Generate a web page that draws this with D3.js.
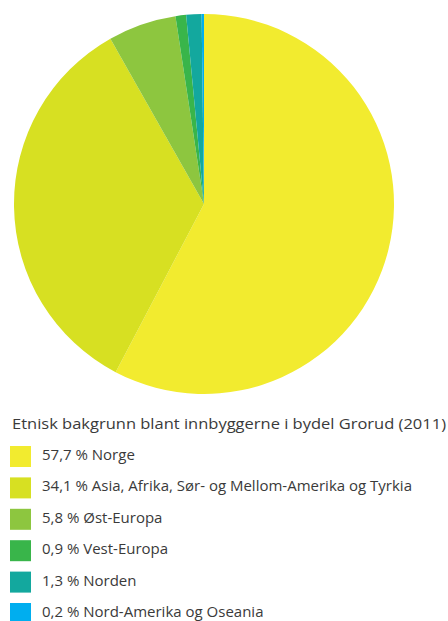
<!DOCTYPE html>
<html>
<head>
<meta charset="utf-8">
<script src="https://cdn.jsdelivr.net/npm/d3@7"></script>
<style>
  body { margin: 0; background: #fff; }
  text { font-family: "Open Sans", sans-serif; fill: #3a3a3a; }
</style>
</head>
<body>
<div id="chart"></div>
<script>
const title = "Etnisk bakgrunn blant innbyggerne i bydel Grorud (2011)";
const categories = ["Norge", "Asia, Afrika, Sør- og Mellom-Amerika og Tyrkia", "Øst-Europa", "Vest-Europa", "Norden", "Nord-Amerika og Oseania"];
const shares = [57.7, 34.1, 5.8, 0.9, 1.3, 0.2];
const colors = ["#f2eb2f", "#d7e022", "#8dc63f", "#39b54a", "#13a89e", "#00aeef"];

const width = 448, height = 621;
const cx = 204, cy = 204, radius = 190;

const svg = d3.select("#chart")
    .append("svg")
    .attr("width", width)
    .attr("height", height);

const data = categories.map(function (c, i) {
    return { name: c, value: shares[i], color: colors[i] };
});

// keep the order as given, start at 12 o'clock, clockwise
const pie = d3.pie()
    .sort(null)
    .value(function (d) { return d.value; });

const arc = d3.arc()
    .innerRadius(0)
    .outerRadius(radius);

svg.append("g")
    .attr("transform", `translate(${cx},${cy})`)
    .selectAll("path")
    .data(pie(data))
    .enter()
    .append("path")
    .attr("d", arc)
    .attr("fill", function (d) { return d.data.color; });

// title
svg.append("text")
    .attr("x", 12)
    .attr("y", 428.5)
    .attr("font-size", 15)
    .attr("textLength", 434)
    .attr("lengthAdjust", "spacingAndGlyphs")
    .text(title);

// legend
const rowY = d3.scaleLinear()
    .domain([0, categories.length - 1])
    .range([446, 603]);

const fmt = d3.format(".1f");

const legend = svg.selectAll(".legend")
    .data(data)
    .enter()
    .append("g")
    .attr("class", "legend")
    .attr("transform", function (d, i) { return `translate(10,${rowY(i)})`; });

legend.append("rect")
    .attr("width", 21)
    .attr("height", 21)
    .attr("fill", function (d) { return d.color; });

legend.append("text")
    .attr("x", 32)
    .attr("y", 14)
    .attr("font-size", 15)
    .text(function (d) { return fmt(d.value).replace(".", ",") + " % " + d.name; });
</script>
</body>
</html>
